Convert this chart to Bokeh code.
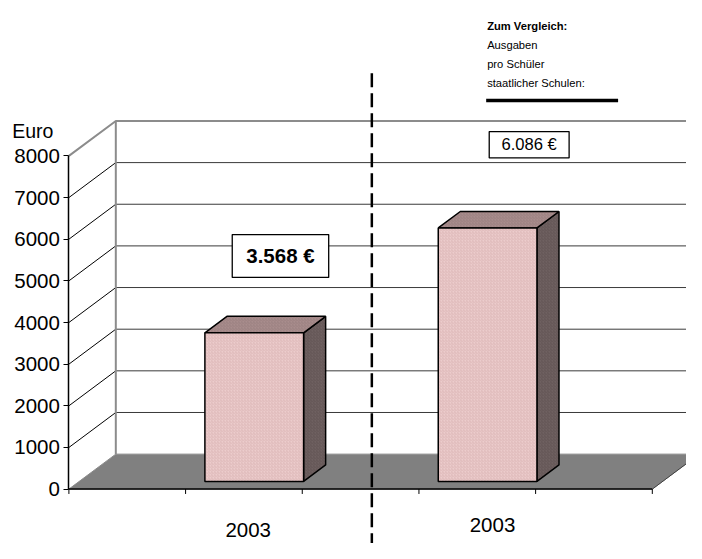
from bokeh.plotting import figure
from bokeh.models import Range1d, FixedTicker, Label
from bokeh.embed import file_html
from bokeh.resources import INLINE

# ---------------- data ----------------
years = ["2003", "2003"]
values = [3568, 6086]
bar_slots = [1, 3]
value_labels = ["3.568 \u20ac", "6.086 \u20ac"]
y_ticks = [0, 1000, 2000, 3000, 4000, 5000, 6000, 7000, 8000]
n_slots = 5
compare_title = "Zum Vergleich:"
compare_lines = ["Ausgaben", "pro Sch\u00fcler", "staatlicher Schulen:"]
y_unit = "Euro"

# ---------------- layout helpers ----------------
W, H = 686, 543
REF_W, REF_H = 702, 559
S = (W / REF_W + H / REF_H) / 2
SLOT_PX = 119.4
PX_PER_UNIT = 343.0 / 8000.0
ZERO_Y = 503
FONT = "Liberation Sans"


def xd(px):
    return (px - 70) / SLOT_PX


def yd(py):
    return (ZERO_Y - py) / PX_PER_UNIT


def fs(px):
    return "%.1fpx" % (px * S)


DX = 48 / SLOT_PX
DY = 36 / PX_PER_UNIT
FA, FB = 0.22, 0.69
BW = 101 / SLOT_PX
TOP = y_ticks[-1]

p = figure(width=W, height=H, output_backend="svg", toolbar_location=None,
           x_range=Range1d(xd(0), xd(REF_W)), y_range=Range1d(yd(REF_H), yd(0)),
           min_border_left=0, min_border_right=0, min_border_top=0, min_border_bottom=0)
p.xaxis.visible = False
p.xgrid.visible = False
p.ygrid.visible = False
p.outline_line_color = None
p.background_fill_color = "white"
p.border_fill_color = "white"

ya = p.yaxis[0]
ya.fixed_location = 0
ya.ticker = FixedTicker(ticks=y_ticks)
ya.bounds = (0, TOP)
ya.axis_line_color = "black"
ya.axis_line_width = 1.5
ya.major_tick_out = 5
ya.major_tick_in = 0
ya.major_tick_line_color = "black"
ya.minor_tick_line_color = None
ya.major_label_text_font = FONT
ya.major_label_text_font_size = fs(21)
ya.major_label_text_color = "black"
ya.major_label_standoff = 4

# floor
p.patch([0, n_slots, n_slots + DX, DX], [0, 0, DY, DY], fill_color="#808080",
        line_color="#8a8a8a", line_width=1)
p.line([0, n_slots], [0, 0], line_color="black", line_width=1.5)
p.line([n_slots, n_slots + DX], [0, DY], line_color="#404040", line_width=1)
p.segment(x0=list(range(n_slots + 1)), y0=[0] * (n_slots + 1),
          x1=list(range(n_slots + 1)), y1=[-5 / PX_PER_UNIT] * (n_slots + 1),
          line_color="black", line_width=1)

# back wall grid and side-wall diagonals
inner = y_ticks[1:-1]
p.segment(x0=[DX] * len(inner), y0=[v + DY for v in inner],
          x1=[n_slots + DX] * len(inner), y1=[v + DY for v in inner],
          line_color="#3a3a3a", line_width=1)
p.segment(x0=[0] * len(inner), y0=inner, x1=[DX] * len(inner), y1=[v + DY for v in inner],
          line_color="black", line_width=1)
p.line([0, DX, n_slots + DX], [TOP, TOP + DY, TOP + DY], line_color="#8c8c8c", line_width=2)
p.line([DX, DX], [DY, TOP + DY], line_color="#8c8c8c", line_width=2)

# bars
fx, fy, tx, ty, sx, sy = [], [], [], [], [], []
for s, v in zip(bar_slots, values):
    l = s + (1 - BW) / 2
    r = l + BW
    ox1, oy1, ox2, oy2 = FA * DX, FA * DY, FB * DX, FB * DY
    fx.append([l + ox1, r + ox1, r + ox1, l + ox1])
    fy.append([oy1, oy1, v + oy1, v + oy1])
    tx.append([l + ox1, r + ox1, r + ox2, l + ox2])
    ty.append([v + oy1, v + oy1, v + oy2, v + oy2])
    sx.append([r + ox1, r + ox2, r + ox2, r + ox1])
    sy.append([oy1, oy2, v + oy2, v + oy1])

p.patches(sx, sy, fill_color="#6f6161", line_color="black", line_width=1.5,
          hatch_pattern="/", hatch_color="#5c4f4f", hatch_scale=3, hatch_weight=0.6)
p.patches(tx, ty, fill_color="#a98d8d", line_color="black", line_width=1.5,
          hatch_pattern="/", hatch_color="#947a7a", hatch_scale=3, hatch_weight=0.6)
p.patches(fx, fy, fill_color="#eccccc", line_color="black", line_width=1.5,
          hatch_pattern="/", hatch_color="#d6afaf", hatch_scale=3, hatch_weight=0.6)

# value boxes
p.rect(x=[xd(286.5), xd(541)], y=[yd(263), yd(148.5)], width=[99 * S, 82 * S],
       height=[44 * S, 27 * S], width_units="screen", height_units="screen",
       fill_color="white", line_color="black", line_width=1.3)
p.add_layout(Label(x=xd(286.5), y=yd(263), text=value_labels[0], text_font=FONT,
                   text_font_size=fs(21), text_font_style="bold", text_align="center",
                   text_baseline="middle", text_color="black"))
p.add_layout(Label(x=xd(541), y=yd(148.5), text=value_labels[1], text_font=FONT,
                   text_font_size=fs(17), text_align="center",
                   text_baseline="middle", text_color="black"))

# category labels
p.add_layout(Label(x=xd(253.5), y=yd(545), text=years[0], text_font=FONT,
                   text_font_size=fs(21), text_align="center",
                   text_baseline="alphabetic", text_color="black"))
p.add_layout(Label(x=xd(503.5), y=yd(540), text=years[1], text_font=FONT,
                   text_font_size=fs(21), text_align="center",
                   text_baseline="alphabetic", text_color="black"))

# unit label
p.add_layout(Label(x=xd(12), y=yd(134), text=y_unit, text_font=FONT,
                   text_font_size=fs(20), text_align="left",
                   text_baseline="alphabetic", text_color="black"))

# comparison legend
p.add_layout(Label(x=xd(498), y=yd(26), text=compare_title, text_font=FONT,
                   text_font_size=fs(11.5), text_font_style="bold", text_align="left",
                   text_baseline="alphabetic", text_color="black"))
for i, t in enumerate(compare_lines):
    p.add_layout(Label(x=xd(498), y=yd(45.5 + 19.7 * i), text=t, text_font=FONT,
                       text_font_size=fs(11.5), text_align="left",
                       text_baseline="alphabetic", text_color="black"))
p.line([xd(497), xd(632)], [yd(103), yd(103)], line_color="black", line_width=3.5)

# separator
sep_x = xd(380)
p.line([sep_x, sep_x], [yd(75), yd(REF_H)], line_color="black", line_width=2.5,
       line_dash="14 6")

open("out.html", "w").write(file_html(p, INLINE))
